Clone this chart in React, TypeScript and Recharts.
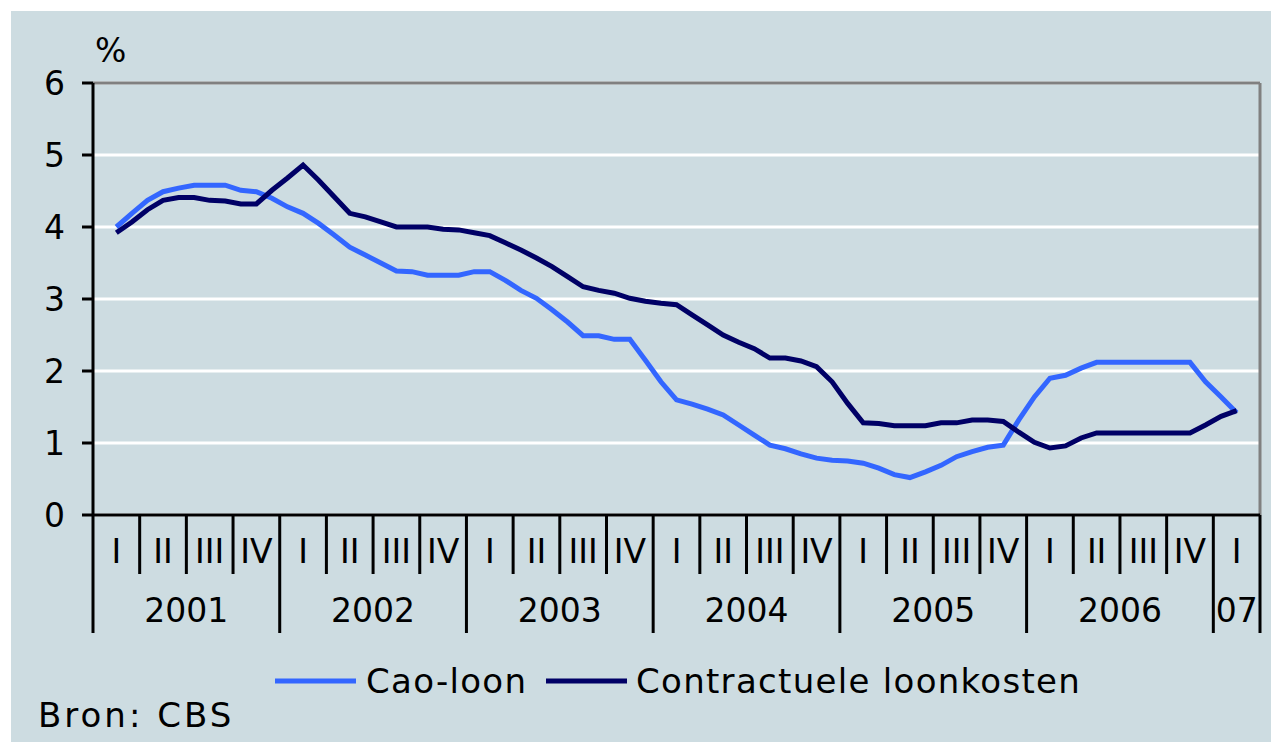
import React from "react";
import { LineChart, Line, XAxis, YAxis, CartesianGrid, ReferenceLine } from "recharts";

// monthly values, Feb 2001 .. Feb 2007
const caoLoon = [
  4.0, 4.19, 4.37, 4.49, 4.54, 4.58, 4.58, 4.58, 4.51, 4.49, 4.4,
  4.28, 4.19, 4.05, 3.89, 3.72, 3.61, 3.5, 3.39, 3.38, 3.33, 3.33, 3.33,
  3.38, 3.38, 3.26, 3.12, 3.01, 2.85, 2.68, 2.49, 2.49, 2.44, 2.44, 2.15,
  1.85, 1.6, 1.54, 1.47, 1.39, 1.25, 1.11, 0.97, 0.92, 0.85, 0.79, 0.76,
  0.75, 0.72, 0.65, 0.56, 0.52, 0.6, 0.69, 0.81, 0.88, 0.94, 0.97, 1.32,
  1.64, 1.9, 1.94, 2.04, 2.12, 2.12, 2.12, 2.12, 2.12, 2.12, 2.12, 1.85,
  1.64, 1.42,
];

const contractueleLoonkosten = [
  3.92, 4.07, 4.24, 4.37, 4.41, 4.41, 4.37, 4.36, 4.32, 4.32, 4.51,
  4.68, 4.86, 4.65, 4.42, 4.19, 4.14, 4.07, 4.0, 4.0, 4.0, 3.97, 3.96,
  3.92, 3.88, 3.78, 3.68, 3.57, 3.45, 3.31, 3.17, 3.12, 3.08, 3.01, 2.97,
  2.94, 2.92, 2.78, 2.64, 2.5, 2.4, 2.31, 2.18, 2.18, 2.14, 2.06, 1.85,
  1.55, 1.28, 1.27, 1.24, 1.24, 1.24, 1.28, 1.28, 1.32, 1.32, 1.3, 1.15,
  1.01, 0.93, 0.96, 1.07, 1.14, 1.14, 1.14, 1.14, 1.14, 1.14, 1.14, 1.25,
  1.37, 1.45,
];

const quarterLabels = ["I", "II", "III", "IV"];
const yearLabels = ["2001", "2002", "2003", "2004", "2005", "2006", "07"];
const yTicks = [0, 1, 2, 3, 4, 5, 6];

const series = [
  { key: "cao", name: "Cao-loon", color: "#3366ff" },
  { key: "clk", name: "Contractuele loonkosten", color: "#000066" },
];

// x = month index (Jan 2001 = 0), points sit in the middle of each month
const data = caoLoon.map((v, i) => ({
  x: i + 1.5,
  cao: v,
  clk: contractueleLoonkosten[i],
}));

const totalMonths = 75;
const xTicks: number[] = [];
for (let q = 0; q <= totalMonths / 3; q++) {
  xTicks.push(q * 3);
  if (q * 3 < totalMonths) xTicks.push(q * 3 + 1.5);
}

const FONT = "DejaVu Sans";

const QuarterTick = (props: any) => {
  const { x, y, payload } = props;
  const v = payload.value;
  const parts: React.ReactNode[] = [];
  if (v % 3 === 0) {
    const isYear = v % 12 === 0 || v === totalMonths;
    parts.push(
      <line key="l" x1={x} x2={x} y1={y} y2={y + (isYear ? 118 : 59)} stroke="#000" strokeWidth={3} />
    );
    if (v % 12 === 6) {
      parts.push(
        <text key="y" x={x} y={y + 107} textAnchor="middle" fontSize={33} fill="#000" fontFamily={FONT}>
          {yearLabels[Math.floor(v / 12)]}
        </text>
      );
    }
  } else {
    const q = Math.floor(v / 3) % 4;
    parts.push(
      <text key="q" x={x} y={y + 48} textAnchor="middle" fontSize={33} fill="#000" fontFamily={FONT}>
        {quarterLabels[q]}
      </text>
    );
    if (v > 72) {
      parts.push(
        <text key="y" x={x} y={y + 107} textAnchor="middle" fontSize={33} fill="#000" fontFamily={FONT}>
          {yearLabels[6]}
        </text>
      );
    }
  }
  return <g>{parts}</g>;
};

export default function App() {
  return (
    <div style={{ position: "fixed", left: 0, top: 0, width: 1271, height: 742, background: "#fff", overflow: "hidden" }}>
      <div style={{ position: "absolute", left: 11, top: 11, width: 1260, height: 731, background: "#cddce1" }} />
      <div style={{ position: "absolute", left: 0, top: 0 }}>
        <LineChart
          width={1271}
          height={742}
          data={data}
          margin={{ top: 83, right: 11, bottom: 0, left: 0 }}
          style={{ fontFamily: FONT }}
        >
          <CartesianGrid horizontal vertical={false} stroke="#ffffff" strokeWidth={3} />
          <XAxis
            dataKey="x"
            type="number"
            domain={[0, totalMonths]}
            ticks={xTicks}
            interval={0}
            height={227}
            tickSize={0}
            tickMargin={0}
            tickLine={false}
            axisLine={{ stroke: "#000", strokeWidth: 3 }}
            tick={<QuarterTick />}
          />
          <YAxis
            domain={[0, 6]}
            ticks={yTicks}
            width={93}
            tickSize={11}
            tickMargin={17}
            tickLine={{ stroke: "#000", strokeWidth: 3 }}
            axisLine={{ stroke: "#000", strokeWidth: 3 }}
            tick={{ fontSize: 33, fill: "#000", fontFamily: FONT }}
          />
          <ReferenceLine y={6} stroke="#808080" strokeWidth={3} />
          <ReferenceLine x={totalMonths} stroke="#808080" strokeWidth={3} />
          {series.map((s) => (
            <Line
              key={s.key}
              dataKey={s.key}
              name={s.name}
              type="linear"
              stroke={s.color}
              strokeWidth={5}
              dot={false}
              isAnimationActive={false}
            />
          ))}
        </LineChart>
      </div>
      <svg width={1271} height={742} style={{ position: "absolute", left: 0, top: 0, pointerEvents: "none" }}>
        <text x={95} y={62} fontSize={33} fontFamily={FONT} fill="#000">%</text>
        <line x1={275} x2={356} y1={681} y2={681} stroke={series[0].color} strokeWidth={5} />
        <text x={366} y={693} fontSize={34} letterSpacing={1.3} fontFamily={FONT} fill="#000">{series[0].name}</text>
        <line x1={546} x2={627} y1={681} y2={681} stroke={series[1].color} strokeWidth={5} />
        <text x={636} y={693} fontSize={34} letterSpacing={1.3} fontFamily={FONT} fill="#000">{series[1].name}</text>
        <text x={38} y={727} fontSize={34} letterSpacing={3} fontFamily={FONT} fill="#000">Bron: CBS</text>
      </svg>
    </div>
  );
}
